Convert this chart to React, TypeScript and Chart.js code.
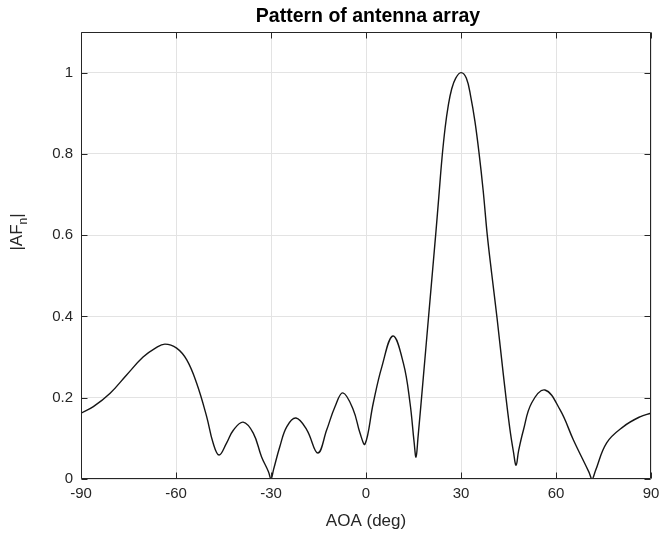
import React, { useEffect, useRef } from "react";
import { Chart, registerables } from "chart.js";

Chart.register(...registerables);

// Angle of arrival (deg) and normalized array factor magnitude
const angles = [
  -90, -86.1, -80.8, -75.6, -70.4, -66.5, -63.5, -59.8, -56.6, -53.5, -50.3, -48.3, -46.4,
  -44, -41.9, -38.8, -35.6, -33, -30.8, -30, -29.2, -27.2, -25, -22.1, -18.7, -15.2, -12.4,
  -9.8, -7.3, -4, -1.9, -0.3, 2.3, 5, 8.5, 11.8, 13.9, 15.2, 15.8, 16.4, 18.1, 19.6, 21.1,
  22.1, 23, 24, 25, 26, 27, 28.3, 30, 31.7, 33.1, 34.4, 35.7, 37, 38.3, 39.7, 41.4, 43.4,
  45.4, 46.6, 47.4, 48.2, 49.7, 52.3, 56.5, 61.3, 65.5, 70.4, 71.4, 72.4, 76, 81.3, 86.5, 90,
];
const afValues = [
  0.162, 0.178, 0.211, 0.256, 0.3, 0.322, 0.332, 0.322, 0.293, 0.236, 0.153, 0.089, 0.059,
  0.089, 0.12, 0.14, 0.113, 0.055, 0.018, 0.0, 0.023, 0.08, 0.129, 0.15, 0.121, 0.064, 0.121,
  0.178, 0.212, 0.17, 0.113, 0.086, 0.187, 0.276, 0.352, 0.285, 0.187, 0.09, 0.054, 0.1, 0.25, 0.385, 0.52,
  0.61, 0.695, 0.79, 0.865, 0.92, 0.958, 0.986, 1.0, 0.986, 0.94, 0.88, 0.802, 0.71, 0.6, 0.505, 0.395, 0.255,
  0.125, 0.065, 0.034, 0.07, 0.12, 0.187, 0.219, 0.17, 0.096, 0.017, 0.0, 0.019, 0.089, 0.129, 0.153, 0.162,
];

const xTickValues = [-90, -60, -30, 0, 30, 60, 90];
const yTickValues = [0, 0.2, 0.4, 0.6, 0.8, 1];

const titleText = "Pattern of antenna array";
const xLabelText = "AOA (deg)";
const yLabelMain = "|AF";
const yLabelSub = "n";
const yLabelEnd = "|";

const FONT = '"Liberation Sans", Arial, Helvetica, sans-serif';
const AXIS_COLOR = "#262626";

const framePlugin = {
  id: "matlabFrame",
  afterDatasetsDraw(chart: any) {
    const { ctx, chartArea: a, scales } = chart;
    ctx.save();
    ctx.strokeStyle = AXIS_COLOR;
    ctx.lineWidth = 1;
    const L = Math.round(a.left) + 0.5;
    const R = Math.round(a.right) - 0.5;
    const T = Math.round(a.top) + 0.5;
    const B = Math.round(a.bottom) - 0.5;
    ctx.beginPath();
    ctx.moveTo(L, T);
    ctx.lineTo(R, T);
    ctx.lineTo(R, B);
    ctx.lineTo(L, B);
    ctx.closePath();
    const tl = 6;
    for (const v of xTickValues) {
      const px = Math.round(scales.x.getPixelForValue(v)) + 0.5;
      ctx.moveTo(px, B);
      ctx.lineTo(px, B - tl);
      ctx.moveTo(px, T);
      ctx.lineTo(px, T + tl);
    }
    for (const v of yTickValues) {
      const py = Math.round(scales.y.getPixelForValue(v)) + 0.5;
      ctx.moveTo(L, py);
      ctx.lineTo(L + tl, py);
      ctx.moveTo(R, py);
      ctx.lineTo(R - tl, py);
    }
    ctx.stroke();
    ctx.restore();
  },
  afterDraw(chart: any) {
    const { ctx, chartArea: a, scales } = chart;
    const cx = (a.left + a.right) / 2;
    ctx.save();
    // x tick labels
    ctx.fillStyle = AXIS_COLOR;
    ctx.font = `15px ${FONT}`;
    ctx.textAlign = "center";
    ctx.textBaseline = "middle";
    for (const v of xTickValues) {
      ctx.fillText(String(v), scales.x.getPixelForValue(v), a.bottom + 15);
    }
    // title
    ctx.fillStyle = "#000";
    ctx.font = `bold 19.5px ${FONT}`;
    ctx.fillText(titleText, cx + 2, 17);
    // x label
    ctx.fillStyle = AXIS_COLOR;
    ctx.font = `17px ${FONT}`;
    ctx.fillText(xLabelText, cx, 521);
    // y label with subscript
    ctx.translate(18, 232);
    ctx.rotate(-Math.PI / 2);
    ctx.textAlign = "left";
    ctx.textBaseline = "alphabetic";
    ctx.font = `17px ${FONT}`;
    const wMain = ctx.measureText(yLabelMain).width;
    const wEnd = ctx.measureText(yLabelEnd).width;
    ctx.font = `12px ${FONT}`;
    const wSub = ctx.measureText(yLabelSub).width;
    const total = wMain + wSub + wEnd;
    let x0 = -total / 2;
    const base = 4;
    ctx.font = `17px ${FONT}`;
    ctx.fillText(yLabelMain, x0, base);
    x0 += wMain;
    ctx.font = `12px ${FONT}`;
    ctx.fillText(yLabelSub, x0, base + 5);
    x0 += wSub;
    ctx.font = `17px ${FONT}`;
    ctx.fillText(yLabelEnd, x0, base);
    ctx.restore();
  },
};

export default function App() {
  const canvasRef = useRef<HTMLCanvasElement | null>(null);

  useEffect(() => {
    const canvas = canvasRef.current;
    if (!canvas) return;
    const points = angles.map((x, i) => ({ x, y: afValues[i] }));
    const chart = new Chart(canvas, {
      type: "line",
      data: {
        datasets: [
          {
            data: points,
            borderColor: "#151515",
            borderWidth: 1.4,
            pointRadius: 0,
            fill: false,
            tension: 0.4,
          },
        ],
      },
      options: {
        responsive: false,
        animation: false,
        devicePixelRatio: 1,
        layout: { padding: { top: 32, right: 10, bottom: 0, left: 0 } },
        plugins: {
          legend: { display: false },
          title: { display: false },
          tooltip: { enabled: false },
        },
        scales: {
          x: {
            type: "linear",
            min: -90,
            max: 90,
            afterBuildTicks: (s: any) => {
              s.ticks = xTickValues.map((v) => ({ value: v }));
            },
            afterFit: (s: any) => {
              s.height = 60;
            },
            ticks: { display: false },
            grid: { color: "#e3e3e3", drawTicks: false, lineWidth: 1 },
            border: { display: false },
          },
          y: {
            type: "linear",
            min: 0,
            max: 1.1,
            afterBuildTicks: (s: any) => {
              s.ticks = yTickValues.map((v) => ({ value: v }));
            },
            afterFit: (s: any) => {
              s.width = 81;
            },
            ticks: {
              color: AXIS_COLOR,
              font: { family: FONT, size: 15 },
              padding: 8,
              callback: (v: any) => String(Math.round(Number(v) * 10) / 10),
            },
            grid: { color: "#e3e3e3", drawTicks: false, lineWidth: 1 },
            border: { display: false },
          },
        },
      },
      plugins: [framePlugin],
    });
    return () => chart.destroy();
  }, []);

  return (
    <div style={{ position: "fixed", left: 0, top: 0, width: 661, height: 539, background: "#fff" }}>
      <canvas ref={canvasRef} width={661} height={539} style={{ display: "block" }} />
    </div>
  );
}
